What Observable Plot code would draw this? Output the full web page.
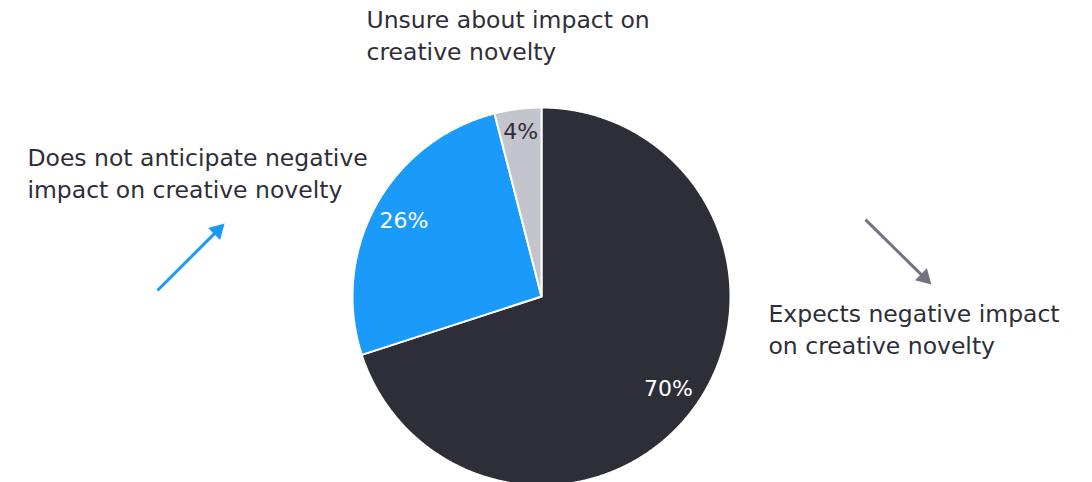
<!DOCTYPE html>
<html>
<head>
<meta charset="utf-8">
<script src="https://cdn.jsdelivr.net/npm/d3@7"></script>
<script src="https://cdn.jsdelivr.net/npm/@observablehq/plot@0.6"></script>
<style>
  html, body { margin: 0; padding: 0; background: #fff; }
  #chart svg { display: block; }
</style>
</head>
<body>
<div id="chart"></div>
<script>
// ---- data ----
const categories = [
  "Expects negative impact on creative novelty",
  "Does not anticipate negative impact on creative novelty",
  "Unsure about impact on creative novelty"
];
const shares = [70, 26, 4];
const pctLabels = ["70%", "26%", "4%"];
const calloutTexts = [
  "Expects negative impact\non creative novelty",
  "Does not anticipate negative\nimpact on creative novelty",
  "Unsure about impact on\ncreative novelty"
];

// ---- style / layout ----
const sliceColors = ["#2e2e38", "#1a9bfc", "#c4c4cd"];
const pctColors = ["#ffffff", "#ffffff", "#2e2e38"];
const pctRadius = [0.83, 0.83, 0.88];
const W = 1092, H = 482, CX = 541, CY = 296, R = 189;
// callout positions in pie-radius units (x right, y up, origin at pie centre)
const calloutX = [1.201, -2.72, -0.926];
const calloutY = [-0.014, 0.812, 1.543];
const arrowFrom = [[1.714, 0.407], [-2.032, 0.032]];
const arrowTo = [[2.063, 0.063], [-1.677, 0.386]];
const arrowColors = ["#747480", "#1a9bfc"];

// ---- pie geometry from values ----
const arcs = d3.pie().sort(null).value(d => d)(shares);
const slicePts = [];
arcs.forEach((a, i) => {
  slicePts.push({cat: categories[i], x: 0, y: 0});
  const n = Math.max(4, Math.ceil((a.endAngle - a.startAngle) / 0.005));
  for (let k = 0; k <= n; k++) {
    const t = a.startAngle + (a.endAngle - a.startAngle) * k / n;
    slicePts.push({cat: categories[i], x: Math.sin(t), y: Math.cos(t)});
  }
});
const pctData = arcs.map((a, i) => {
  const m = (a.startAngle + a.endAngle) / 2;
  return {label: pctLabels[i], x: pctRadius[i] * Math.sin(m), y: pctRadius[i] * Math.cos(m), color: pctColors[i]};
});
const callouts = calloutTexts.map((t, i) => ({text: t, x: calloutX[i], y: calloutY[i]}));
const headLen = 14.7 / R; // triangle height in radius units
const arrows = arrowFrom.map((f, i) => {
  const [x2, y2] = arrowTo[i];
  const dx = x2 - f[0], dy = y2 - f[1], L = Math.hypot(dx, dy);
  const ux = dx / L, uy = dy / L;
  return {
    x1: f[0], y1: f[1],
    x2: x2 - ux * headLen * 0.8, y2: y2 - uy * headLen * 0.8,
    hx: x2 - ux * headLen * 2 / 3, hy: y2 - uy * headLen * 2 / 3,
    rot: 90 - Math.atan2(uy, ux) * 180 / Math.PI,
    color: arrowColors[i]
  };
});

const font = "'DejaVu Sans', 'Noto Sans', sans-serif";

const chart = Plot.plot({
  width: W, height: H,
  margin: 0,
  style: {fontFamily: font, background: "#fff", overflow: "hidden"},
  x: {domain: [-CX / R, (W - CX) / R], range: [0, W], axis: null},
  y: {domain: [-(H - CY) / R, CY / R], range: [H, 0], axis: null},
  color: {domain: categories, range: sliceColors},
  marks: [
    Plot.line(slicePts, {x: "x", y: "y", z: "cat", fill: "cat", stroke: "#ffffff", strokeWidth: 2, curve: "linear-closed"}),
    Plot.text(pctData, {x: "x", y: "y", text: "label", fill: "color", fontSize: 22, fontWeight: 400, textAnchor: "middle", lineAnchor: "middle"}),
    Plot.text(callouts, {x: "x", y: "y", text: "text", fill: "#2e2e38", fontSize: 23.5, fontWeight: 400, textAnchor: "start", lineAnchor: "top", lineHeight: 1.36}),
    Plot.link(arrows, {x1: "x1", y1: "y1", x2: "x2", y2: "y2", stroke: "color", strokeWidth: 3}),
    Plot.dot(arrows, {x: "hx", y: "hy", symbol: "triangle", r: 6.3, fill: "color", stroke: "none", rotate: "rot"})
  ]
});
document.getElementById("chart").appendChild(chart);
</script>
</body>
</html>
